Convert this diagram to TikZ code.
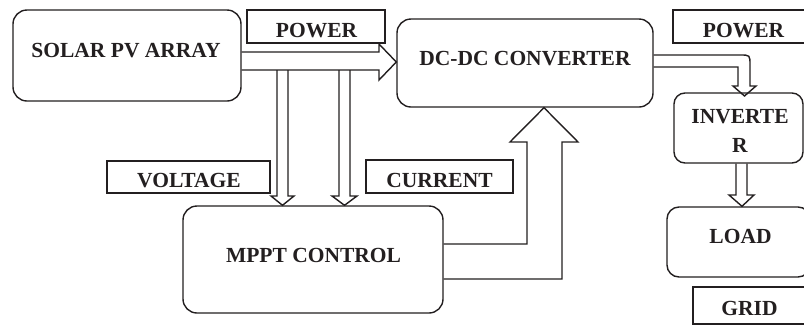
\documentclass[tikz,border=0pt]{standalone}
\usepackage{fontspec}
\setmainfont{Liberation Serif}
\usetikzlibrary{calc}
\definecolor{ink}{HTML}{231F20}
\begin{document}
\begin{tikzpicture}[x=1pt,y=-1pt,
  box/.style={draw=ink, line width=1.4pt, rounded corners=14pt, inner sep=0pt},
  tag/.style={draw=ink, line width=1.3pt, inner sep=0pt},
  txt/.style={font=\bfseries\fontsize{21.5}{24}\selectfont, text=ink, inner sep=0pt, anchor=base},
  blk/.style={draw=ink, line width=1.4pt, line join=miter}]
\clip (0,0) rectangle (804,325);
\fill[white] (0,0) rectangle (804,325);
% boxes
\node[box, minimum width=228pt, minimum height=91pt] (solar) at (127,55.5) {};
\node[box, minimum width=256pt, minimum height=88pt] (dc) at (525,63) {};
\node[box, minimum width=260pt, minimum height=107pt] (mppt) at (313,259.5) {};
\node[box, rounded corners=11pt, minimum width=129pt, minimum height=70pt] (inv) at (738.5,128) {};
\node[box, rounded corners=12pt, minimum width=143pt, minimum height=70pt] (load) at (738.5,242) {};
% tags
\node[tag, minimum width=138pt, minimum height=33pt] (pw1) at (316,26.5) {};
\node[tag, minimum width=139pt, minimum height=33pt] (pw2) at (742.5,26.5) {};
\node[tag, minimum width=163pt, minimum height=32pt] (volt) at (188.5,177) {};
\node[tag, minimum width=147pt, minimum height=33pt] (curr) at (439.5,176.5) {};
\node[tag, minimum width=119pt, minimum height=37pt] (grid) at (752.5,305.5) {};
% texts
\node[txt] (tsolar) at (126,57) {SOLAR PV ARRAY};
\node[txt] (tpw1) at (316.5,37) {POWER};
\node[txt] (tdc) at (525,65) {DC-DC CONVERTER};
\node[txt] (tpw2) at (743.5,37) {POWER};
\node[txt] (tinv1) at (740,123) {INVERTE};
\node[txt] (tinv2) at (740,152) {R};
\node[txt] (tvolt) at (189,187) {VOLTAGE};
\node[txt] (tcurr) at (439.5,187) {CURRENT};
\node[txt] (tmppt) at (313.5,262) {MPPT CONTROL};
\node[txt] (tload) at (740.5,243) {LOAD};
\node[txt] (tgrid) at (749.5,315) {GRID};
% solar -> dc block arrow
\draw[blk] (solar.east |- 0,52) -- (379,52) -- (379,44) -- (dc.west |- 0,62) -- (379,80) -- (379,70) -- (solar.east |- 0,70);
% voltage and current taps -> mppt
\draw[blk] (277,70) -- (277,196) -- (271,196) -- (282.5,0 |- mppt.north) -- (294,196) -- (288,196) -- (288,70);
\draw[blk] (339,70) -- (339,196) -- (332,196) -- (344.5,0 |- mppt.north) -- (357,196) -- (350,196) -- (350,70);
% mppt -> dc
\draw[blk] (mppt.east |- 0,244) -- (527,244) -- (527,142) -- (510,142) -- (544,0 |- dc.south) -- (578,142) -- (562,142) -- (562,279) -- (mppt.east |- 0,279);
% dc -> inverter
\draw[blk] (dc.east |- 0,55) -- (740,55) .. controls (750,55) .. (750,65) -- (750,86) -- (756,86) -- (744.5,96) -- (733,86) -- (738,86) -- (738,67) -- (dc.east |- 0,67);
% inverter -> load
\draw[blk] (736,0 |- inv.south) -- (736,195) -- (729,195) -- (742,0 |- load.north) -- (754,195) -- (747,195) -- (747,0 |- inv.south);
\end{tikzpicture}
\end{document}
